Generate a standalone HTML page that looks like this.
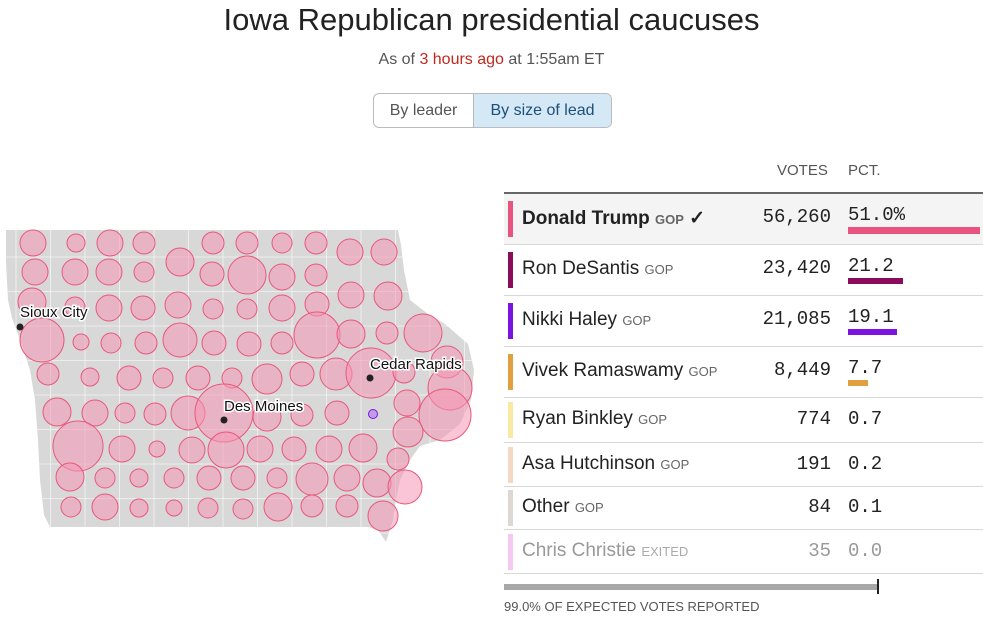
<!DOCTYPE html>
<html><head><meta charset="utf-8"><style>
body{margin:0;width:983px;height:637px;background:#fff;font-family:"Liberation Sans",sans-serif;color:#222;overflow:hidden;position:relative}
.abs{position:absolute}
.title{left:0;width:983px;top:2px;text-align:center;font-size:31px;color:#222}
.sub{left:0;width:983px;top:51px;text-align:center;font-size:16px;color:#555}
.btns{left:373px;top:93px;width:237px;height:33px;border:1px solid #b8bcc0;border-radius:6px;overflow:hidden;display:flex;font-size:16px}
.btns div{display:flex;align-items:center;justify-content:center}
.row{position:absolute;left:504px;width:479px}
.cbar{position:absolute;left:4px;width:5px}
.name{position:absolute;left:18px;font-size:19px;white-space:nowrap}
.name small{font-size:13px;color:#666}
.votes{position:absolute;right:152px;font-family:"Liberation Mono",monospace;font-size:19px;text-align:right}
.pct{position:absolute;left:344px;font-family:"Liberation Mono",monospace;font-size:19px}
.pbar{position:absolute;left:344px}
.sep{position:absolute;left:504px;width:479px;height:1px;background:#d8d8d8}
</style></head><body>
<div class="abs title">Iowa Republican presidential caucuses</div>
<div class="abs sub">As of <span style="color:#c0281c">3 hours ago</span> at 1:55am ET</div>
<div class="abs btns">
<div style="width:99px;color:#555;border-right:1px solid #b8bcc0">By leader</div>
<div style="flex:1;background:#d5e8f6;color:#1d4f78">By size of lead</div>
</div>

<svg class="abs" style="left:0;top:0" width="500" height="637">
<defs><clipPath id="ia"><polygon points="6,230 398,230 401,245 404,270 410,300 428,314 445,324 468,344 474,370 471,400 460,424 440,440 420,446 410,460 400,480 396,500 393,520 386,542 378,530 368,527 50,527 44,515 40,480 38,440 35,400 30,370 22,345 12,318 8,300 6,262"/></clipPath></defs>
<polygon points="6,230 398,230 401,245 404,270 410,300 428,314 445,324 468,344 474,370 471,400 460,424 440,440 420,446 410,460 400,480 396,500 393,520 386,542 378,530 368,527 50,527 44,515 40,480 38,440 35,400 30,370 22,345 12,318 8,300 6,262" fill="#d8d8d8"/>
<g id="grid" clip-path="url(#ia)" stroke="#fff" stroke-width="0.8" stroke-opacity="0.7"></g>
<g id="circles"></g>
<circle cx="373" cy="414" r="4.5" fill="#c39be8" stroke="#7b14e0" stroke-width="1"/>
<g font-size="15" fill="#111" stroke="#fff" stroke-width="3" paint-order="stroke">
<circle cx="20" cy="327" r="3.5" fill="#222" stroke="none"/>
<text x="20" y="317">Sioux City</text>
<circle cx="370" cy="378" r="3.5" fill="#222" stroke="none"/>
<text x="370" y="369">Cedar Rapids</text>
<circle cx="224" cy="420" r="3.5" fill="#222" stroke="none"/>
<text x="224" y="411">Des Moines</text>
</g>
</svg>

<div class="abs" style="left:777px;top:162px;font-size:15px;color:#555">VOTES</div>
<div class="abs" style="left:848px;top:162px;font-size:15px;color:#555">PCT.</div>
<div class="abs" style="left:504px;top:192px;width:479px;height:2px;background:#666"></div>
<div id="table"></div>

<div class="abs" style="left:504px;top:584px;width:374px;height:6px;background:#a8a8a8"></div>
<div class="abs" style="left:877px;top:579px;width:2px;height:15px;background:#222"></div>
<div class="abs" style="left:504px;top:599px;font-size:13px;color:#555">99.0% OF EXPECTED VOTES REPORTED</div>

<script>
const cx=[33,76,110,144,213,247,282,316,350,384,180, 35,75,109,144,212,247,282,316, 32,75,109,143,178,213,247,282,317,351,388, 42,81,111,146,180,214,249,282,317,351,387,423, 48,90,129,163,198,232,267,302,336,371,404,447,450, 57,95,125,155,188,224,267,302,337,407,445,408, 78,122,157,192,226,260,294,329,363,398, 70,105,139,174,209,243,277,312,347,377,405, 71,105,139,174,208,243,278,312,347,383];
const cy=[243,243,243,243,243,243,243,243,252,252,262, 272,272,272,272,274,275,277,275, 302,307,308,308,305,309,309,308,304,295,296, 340,342,343,343,340,343,344,343,335,334,333,333, 374,377,378,378,378,378,379,374,374,373,372,362,388, 412,413,413,414,413,413,417,415,413,403,415,432, 446,449,449,450,450,449,449,449,448,459, 477,478,478,478,478,478,478,479,478,483,487, 507,507,508,508,508,509,507,506,506,516];
const cr=[13,9,13,11,11,11,10,11,13,13,14, 13,13,13,10,12,19,13,11, 14,10,13,12,13,10,10,13,12,13,14, 22,8,10,11,17,12,12,11,23,14,11,19, 11,9,12,10,12,10,15,12,16,25,11,16,22, 14,13,10,11,17,29,14,11,12,13,26,15, 25,13,8,13,18,13,12,13,14,11, 14,10,9,10,12,12,10,16,13,14,17, 10,13,9,8,10,10,14,11,11,15];
const NS='http://www.w3.org/2000/svg';
const gc=document.getElementById('circles');
for(let i=0;i<cx.length;i++){
 const c=document.createElementNS(NS,'circle');
 c.setAttribute('cx',cx[i]);c.setAttribute('cy',cy[i]);c.setAttribute('r',cr[i]);
 c.setAttribute('fill','rgba(246,150,180,0.55)');c.setAttribute('stroke','#e8587c');c.setAttribute('stroke-width','1');
 
 
 gc.appendChild(c);
}
const gg=document.getElementById('grid');
for(let x=16;x<480;x+=34.5){const l=document.createElementNS(NS,'line');l.setAttribute('x1',x);l.setAttribute('x2',x);l.setAttribute('y1',225);l.setAttribute('y2',545);


gg.appendChild(l);}
for(let y=257;y<545;y+=34.5){const l=document.createElementNS(NS,'line');l.setAttribute('x1',0);l.setAttribute('x2',480);l.setAttribute('y1',y);l.setAttribute('y2',y);


gg.appendChild(l);}

const names=['Donald Trump','Ron DeSantis','Nikki Haley','Vivek Ramaswamy','Ryan Binkley','Asa Hutchinson','Other','Chris Christie'];
const party=['GOP','GOP','GOP','GOP','GOP','GOP','GOP','EXITED'];
const votes=[56260,23420,21085,8449,774,191,84,35];
const pcts=[51.0,21.2,19.1,7.7,0.7,0.2,0.1,0.0];
const colors=['#e8547f','#8c0c5c','#7b14e0','#e0a040','#f8eaa4','#f5d8c2','#ddd9d2','#f5c8f2'];
const rowTop=[194,245,296,347,398,443,487,530];
const rowH=[50,50,50,50,44,43,42,43];
const pxPerPct=2.59;
const T=document.getElementById('table');
for(let i=0;i<names.length;i++){
 const r=document.createElement('div');r.className='row';
 r.style.top=rowTop[i]+'px';r.style.height=rowH[i]+'px';
 if(i===0)r.style.background='#f4f4f4';
 
 
 const mid=rowH[i]/2, big=i<4;
 const grey=i===7;
 let h='<div class="cbar" style="top:'+(mid-18)+'px;height:36px;background:'+colors[i]+'"></div>';
 h+='<div class="name" style="top:'+(mid-12)+'px;'+(i===0?'font-weight:600;':'')+(grey?'color:#999;':'')+'">'+names[i]+' <small'+(grey?' style="color:#aaa"':'')+'>'+party[i]+'</small>'+(i===0?' ✓':'')+'</div>';
 h+='<div class="votes" style="top:'+(mid-(big?13:12))+'px;'+(grey?'color:#999':'')+'">'+votes[i].toLocaleString('en-US')+'</div>';
 h+='<div class="pct" style="top:'+(mid-(big?15:12))+'px;'+(grey?'color:#999':'')+'">'+pcts[i].toFixed(1)+(i===0?'%':'')+'</div>';
 if(pcts[i]>=1)h+='<div class="pbar" style="top:'+(mid+8)+'px;height:'+(i===0?7:6)+'px;width:'+(pcts[i]*pxPerPct)+'px;background:'+colors[i]+'"></div>';
 r.innerHTML=h;
 T.appendChild(r);
 const s=document.createElement('div');s.className='sep';s.style.top=(rowTop[i]+rowH[i])+'px';
 
 
 T.appendChild(s);
}
</script>
</body></html>
